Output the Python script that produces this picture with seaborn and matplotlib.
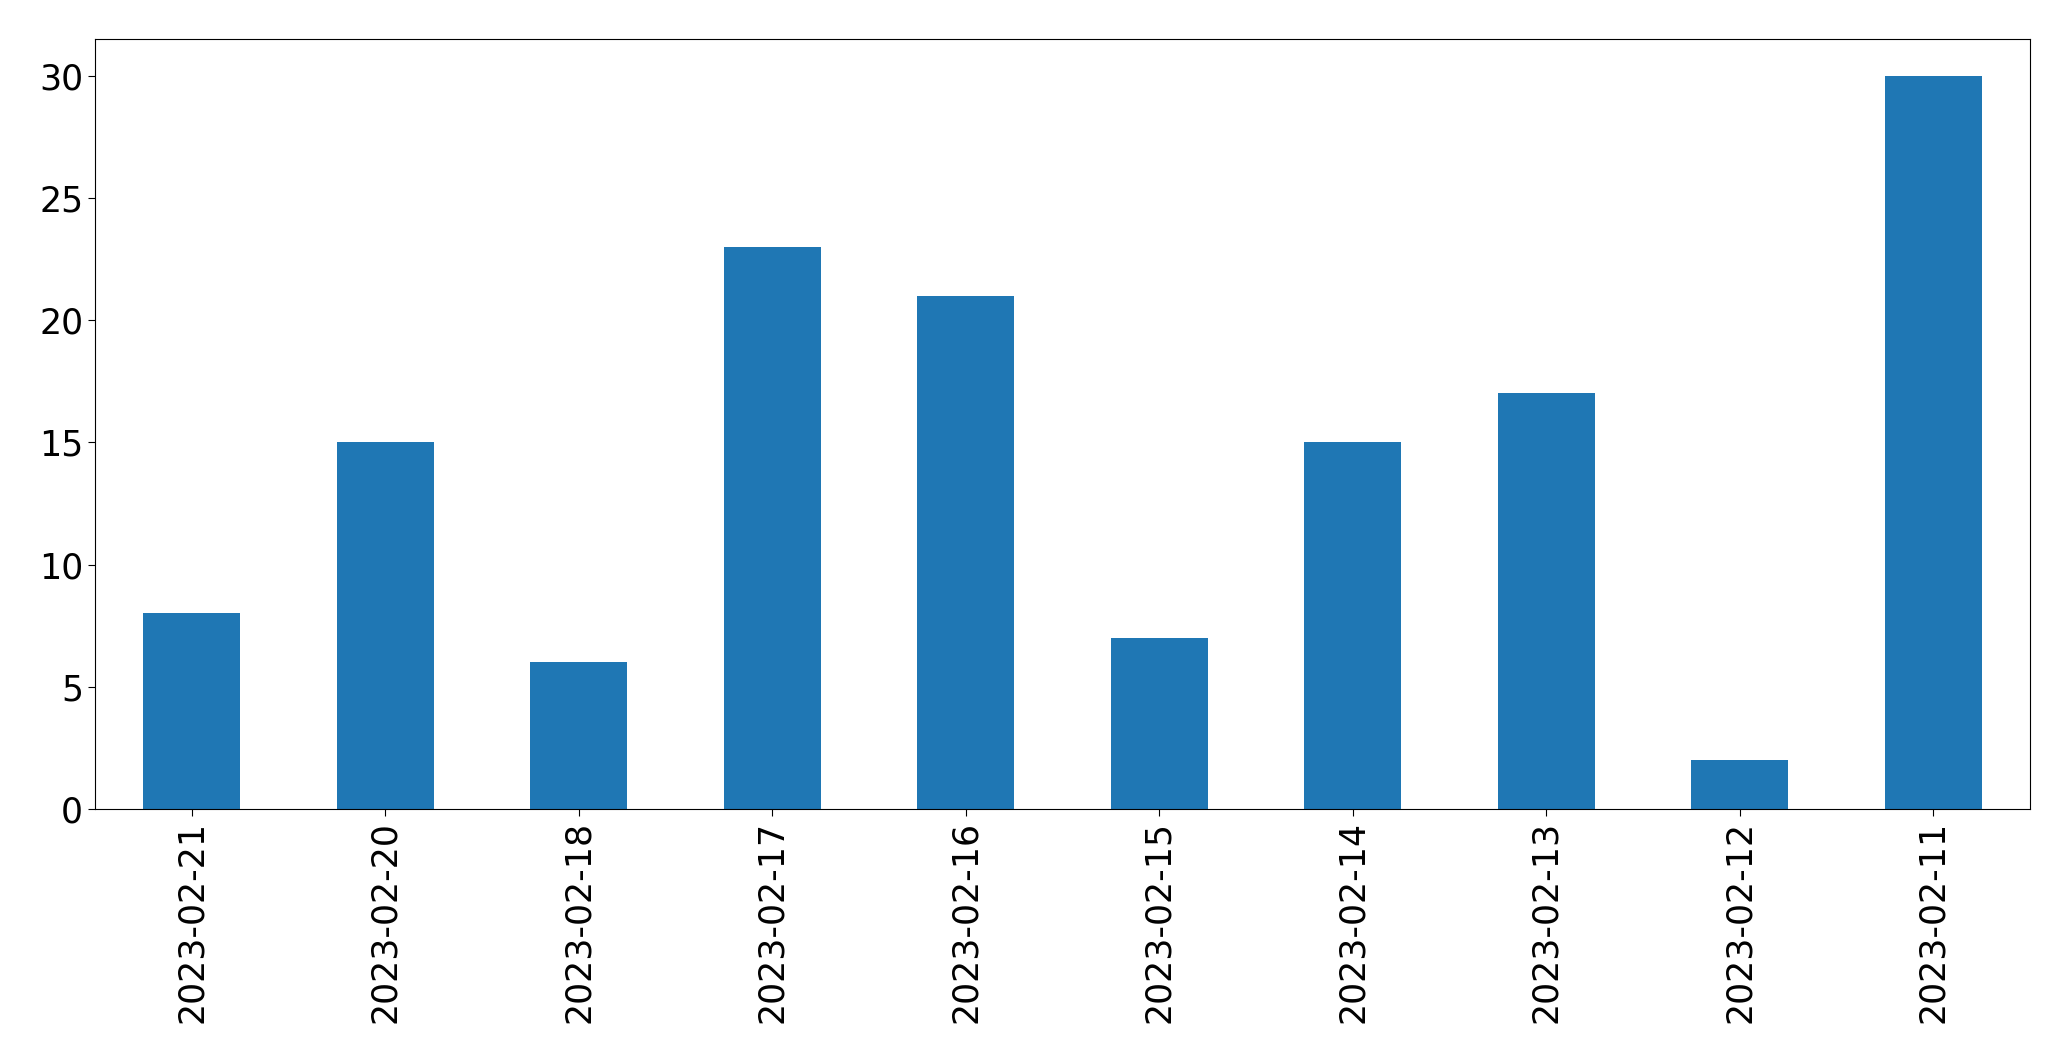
import pandas as pd
import matplotlib
matplotlib.use("Agg")
import matplotlib.pyplot as plt
import seaborn as sns

# datos
fechas = ["2023-02-21", "2023-02-20", "2023-02-18", "2023-02-17", "2023-02-16",
          "2023-02-15", "2023-02-14", "2023-02-13", "2023-02-12", "2023-02-11"]
conteos = [8, 15, 6, 23, 21, 7, 15, 17, 2, 30]

df = pd.DataFrame({"fecha": fechas, "conteo": conteos})

fig = plt.figure(figsize=(20.71, 10.61), dpi=100)
ax = fig.add_axes([95 / 2071, 1 - 809 / 1061, (2030 - 95) / 2071, (809 - 39) / 1061])
sns.barplot(data=df, x="fecha", y="conteo", order=fechas, color="#1f77b4",
            saturation=1, width=0.5, linewidth=0, ax=ax)
ax.set_xlim(-0.5, len(fechas) - 0.5)
ax.set_ylim(0, max(conteos) * 1.05)
ax.set_xlabel("")
ax.set_ylabel("")
ax.tick_params(axis="both", labelsize=25, length=5)
ax.tick_params(axis="x", labelrotation=90)

fig.savefig("out.png", dpi=100)
